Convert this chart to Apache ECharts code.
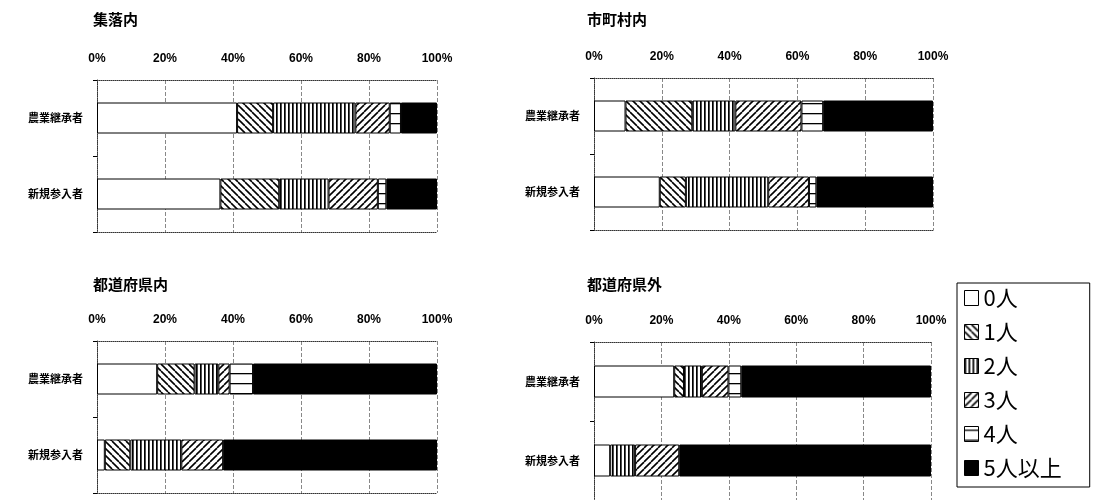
<!DOCTYPE html>
<html><head><meta charset="utf-8">
<script src="https://cdn.jsdelivr.net/npm/echarts@6/dist/echarts.min.js"></script>
<style>html,body{margin:0;padding:0;background:#fff}#c{width:1100px;height:500px}</style>
</head><body><div id="c"></div>
<script>
const categories = ['農業継承者', '新規参入者'];
const seriesNames = ['0人', '1人', '2人', '3人', '4人', '5人以上'];
const panelTitles = ['集落内', '市町村内', '都道府県内', '都道府県外'];
const tickLabels = ['0%', '20%', '40%', '60%', '80%', '100%'];
// shares (%) per group, order: 0人,1人,2人,3人,4人,5人以上
const shurakuFarm = [41.2, 10.6, 24.2, 10.1, 3.3, 10.6];
const shurakuNew  = [36.3, 17.3, 14.5, 14.5, 2.5, 14.9];
const shichosonFarm = [9.3, 19.7, 12.7, 19.5, 6.4, 32.4];
const shichosonNew  = [19.4, 7.7, 24.3, 12.0, 2.2, 34.4];
const kennaiFarm = [17.7, 11.0, 7.0, 3.3, 6.9, 54.1];
const kennaiNew  = [2.3, 7.5, 15.0, 12.3, 0, 62.9];
const kengaiFarm = [23.8, 2.9, 5.3, 7.9, 3.8, 56.3];
const kengaiNew  = [4.8, 0, 7.4, 13.1, 0, 74.7];

const panels = [
  {title: panelTitles[0], farm: shurakuFarm, nw: shurakuNew},
  {title: panelTitles[1], farm: shichosonFarm, nw: shichosonNew},
  {title: panelTitles[2], farm: kennaiFarm, nw: kennaiNew},
  {title: panelTitles[3], farm: kengaiFarm, nw: kengaiNew}
];
const gridPos = [
  {left: 97, top: 80, width: 340, height: 152, tx: 93, ty: 12},
  {left: 594, top: 78, width: 339, height: 152, tx: 587, ty: 12},
  {left: 97, top: 341, width: 340, height: 152, tx: 93, ty: 277},
  {left: 594, top: 342, width: 337, height: 158, tx: 587, ty: 277}
];

function makePattern(kind) {
  const c = document.createElement('canvas');
  let w = 8, h = 8;
  if (kind === 'v') { w = 4; h = 4; }
  if (kind === 'h') { w = 4; h = 10; }
  if (kind === 'b' || kind === 'f') { w = 7; h = 7; }
  c.width = w; c.height = h;
  const g = c.getContext('2d');
  g.fillStyle = '#fff'; g.fillRect(0, 0, w, h);
  g.strokeStyle = '#000'; g.fillStyle = '#000';
  if (kind === 'v') { g.fillRect(0, 0, 1.7, h); }
  if (kind === 'h') { g.fillRect(0, 3, w, 1.3); }
  if (kind === 'b' || kind === 'f') {
    g.lineWidth = 1.6;
    for (let k = -1; k <= 1; k++) {
      g.beginPath();
      if (kind === 'b') { g.moveTo(k * w, 0); g.lineTo(k * w + w, h); }
      else { g.moveTo(k * w, h); g.lineTo(k * w + w, 0); }
      g.stroke();
    }
  }
  return {image: c, repeat: 'repeat'};
}
const fills = ['#ffffff', makePattern('b'), makePattern('v'), makePattern('f'), makePattern('h'), '#000000'];

const grids = [], xAxes = [], yAxes = [], series = [], titles = [];
panels.forEach((p, i) => {
  const gp = gridPos[i];
  grids.push({left: gp.left, top: gp.top, width: gp.width, height: gp.height, containLabel: false});
  titles.push({text: p.title, left: gp.tx, top: gp.ty, padding: 0,
    textStyle: {fontFamily: 'Noto Sans CJK JP', fontWeight: 'bold', fontSize: 15, color: '#000'}});
  xAxes.push({type: 'value', gridIndex: i, position: 'top', min: 0, max: 100, interval: 20,
    axisLine: {show: true, lineStyle: {color: '#333', type: 'dotted'}},
    axisTick: {show: false},
    axisLabel: {margin: 15, fontSize: 12, fontWeight: 'bold', color: '#000', fontFamily: 'Liberation Sans',
      formatter: v => tickLabels[Math.round(v / 20)]},
    splitLine: {show: true, lineStyle: {color: '#888', type: 'dashed', width: 1}}});
  xAxes.push({type: 'value', gridIndex: i, position: 'bottom', min: 0, max: 100, interval: 20,
    axisLine: {show: true, lineStyle: {color: '#333', type: 'dotted'}},
    axisTick: {show: false}, axisLabel: {show: false}, splitLine: {show: false}});
  yAxes.push({type: 'category', gridIndex: i, data: categories, inverse: true,
    axisLine: {show: true, lineStyle: {color: '#333', type: 'dotted'}},
    axisTick: {show: true, length: 4, lineStyle: {color: '#000'}},
    axisLabel: {margin: 14, fontSize: 11, color: '#000', fontFamily: 'Noto Sans CJK JP', fontWeight: 'bold'}});
  seriesNames.forEach((name, s) => {
    const vals = [p.farm[s], p.nw[s]].map(v => v === 0 ? '-' : v);
    series.push({name: name, type: 'bar', stack: 'p' + i, xAxisIndex: i * 2, yAxisIndex: i,
      barWidth: i === 3 ? 32 : 31, data: vals, silent: true,
      itemStyle: {color: fills[s], borderColor: '#000', borderWidth: 1}});
  });
});

const chart = echarts.init(document.getElementById('c'), null, {renderer: 'canvas'});
chart.setOption({
  animation: false,
  backgroundColor: '#fff',
  title: titles,
  grid: grids, xAxis: xAxes, yAxis: yAxes, series: series,
  legend: {data: seriesNames, orient: 'vertical', left: 957, top: 283,
    itemWidth: 14, itemHeight: 15, itemGap: 12, icon: 'rect',
    padding: [4, 28, 8, 7], borderColor: '#000', borderWidth: 1, selectedMode: false,
    itemStyle: {borderColor: '#000', borderWidth: 1},
    textStyle: {fontSize: 22, color: '#000', fontFamily: 'Noto Sans CJK JP', padding: [0, 0, 0, 0]}}
});
</script></body></html>
